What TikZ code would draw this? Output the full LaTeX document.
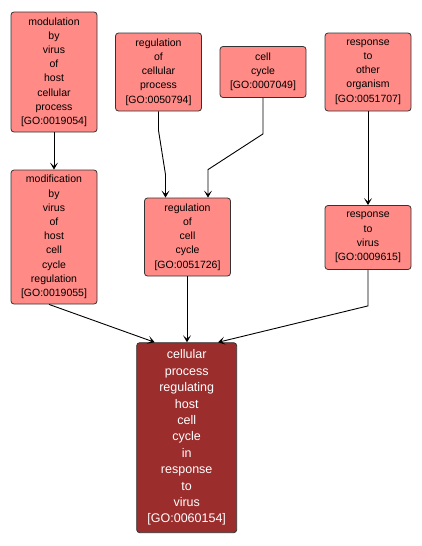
\documentclass[tikz,border=0pt]{standalone}
\usepackage{fontspec}
\setmainfont{Liberation Sans}
\usetikzlibrary{arrows.meta}
\definecolor{salmon}{RGB}{255,138,134}
\definecolor{darkred}{RGB}{155,45,45}
\begin{document}
\begin{tikzpicture}[x=1pt,y=-1pt,
  box/.style={draw=black!80,line width=0.8pt,rounded corners=3pt,fill=salmon,align=center,
    font=\fontsize{10.5pt}{14.2pt}\selectfont,inner sep=0pt,text=black},
  dbox/.style={box,fill=darkred,text=white,font=\fontsize{12.5pt}{16.4pt}\selectfont},
  edge/.style={draw=black,line width=0.9pt,-{Stealth[length=7pt,width=8pt,inset=3.5pt]}}]
\useasboundingbox (0,0) rectangle (421,546);
\node[box,minimum width=86pt,minimum height=120pt] (A) at (54,72)
  {modulation\\by\\virus\\of\\host\\cellular\\process\\{[GO:0019054]}};
\node[box,minimum width=86pt,minimum height=78pt] (B) at (158.5,72)
  {regulation\\of\\cellular\\process\\{[GO:0050794]}};
\node[box,minimum width=86pt,minimum height=51pt] (C) at (263,72)
  {cell\\cycle\\{[GO:0007049]}};
\node[box,minimum width=86pt,minimum height=78pt] (D) at (368,72)
  {response\\to\\other\\organism\\{[GO:0051707]}};
\node[box,minimum width=86pt,minimum height=134pt] (E) at (54,237)
  {modification\\by\\virus\\of\\host\\cell\\cycle\\regulation\\{[GO:0019055]}};
\node[box,minimum width=86pt,minimum height=78pt] (F) at (187.5,237)
  {regulation\\of\\cell\\cycle\\{[GO:0051726]}};
\node[box,minimum width=86pt,minimum height=64pt] (G) at (368,237.5)
  {response\\to\\virus\\{[GO:0009615]}};
\node[dbox,minimum width=100pt,minimum height=190pt] (H) at (186.7,437.7)
  {cellular\\process\\regulating\\host\\cell\\cycle\\in\\response\\to\\virus\\{[GO:0060154]}};
\draw[edge] (A.south) -- (E.north);
\draw[edge] (B.south) -- ++(0,19) -- ([xshift=-22pt,yshift=23pt]F.north) -- ([xshift=-22pt]F.north);
\draw[edge] (C.south) -- ++(0,36) -- ([xshift=20.5pt,yshift=28pt]F.north) -- ([xshift=20.5pt]F.north);
\draw[edge] (D.south) -- (G.north);
\draw[edge] ([xshift=-5pt]E.south) -- ([xshift=-32pt]H.north);
\draw[edge] ([xshift=-0.5pt]F.south) -- ([xshift=0.3pt]H.north);
\draw[edge] (G.south) -- ++(0,36) -- ([xshift=31.3pt]H.north);
\end{tikzpicture}
\end{document}
